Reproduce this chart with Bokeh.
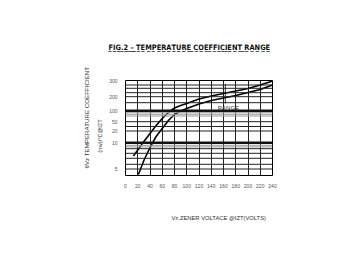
from bokeh.plotting import figure
from bokeh.models import Range1d, FixedTicker, Label, Span, Title
from bokeh.embed import file_html
from bokeh.resources import INLINE

# ---- data ----
x_ticks = [0, 20, 40, 60, 80, 100, 120, 140, 160, 180, 200, 220, 240]
y_tick_pos = [94.5, 78.8, 64.8, 53.8, 44.5, 32.8, 6.5]
y_tick_labels = ["300", "200", "100", "50", "20", "10", "5"]

upper_x = [13, 20, 30, 40, 50, 60, 70, 80, 90, 100, 120, 140, 160, 180, 200, 220, 240]
upper_y = [19.5, 25.5, 34, 42, 50, 57, 63, 67.5, 70, 72, 76.5, 79.5, 82, 84.5, 87, 90.5, 94.5]

lower_x = [21, 30, 40, 50, 60, 70, 80, 90, 100, 120, 140, 160, 180, 200, 220, 240]
lower_y = [1, 15, 28, 39, 47, 55, 61, 64.5, 67, 71.5, 75, 77.5, 80, 83, 86, 90.5]

range_x = [163, 163]
range_y = [72, 91.5]

thin_grid = [90.5, 87.2, 82.8, 78.8, 72.8, 53.8, 49, 44.5, 26.8, 22.2, 17.2, 11.2, 6.5]
gray_grid = [62.8, 61.2, 59.5, 30.2, 28.6]
heavy_grid = [64.8, 32.8]

title_text = "FIG.2 \u2013 TEMPERATURE COEFFICIENT RANGE"
x_title = "Vz,ZENER VOLTACE @IZT(VOLTS)"
y_title1 = "\u03b8Vz TEMPERATURE COEFFICIENT"
y_title2 = "(mv)/\u00b0C@IZT"

FONT = "Liberation Sans"

p = figure(width=360, height=270, x_range=Range1d(0, 240), y_range=Range1d(0, 95),
           output_backend="svg", toolbar_location=None,
           min_border_left=125, min_border_right=88, min_border_top=80, min_border_bottom=95,
           background_fill_color="white", border_fill_color="white")

p.outline_line_color = "black"
p.outline_line_width = 1

p.xaxis.ticker = FixedTicker(ticks=x_ticks)
p.yaxis.ticker = FixedTicker(ticks=y_tick_pos)
p.yaxis.major_label_overrides = {v: s for v, s in zip(y_tick_pos, y_tick_labels)}
for ax in (p.xaxis, p.yaxis):
    ax.axis_line_color = None
    ax.major_tick_line_color = None
    ax.minor_tick_line_color = None
    ax.major_label_text_font = FONT
    ax.major_label_text_font_size = "5px"
    ax.major_label_text_color = "#555555"
    ax.major_label_standoff = 2

p.xgrid.ticker = FixedTicker(ticks=x_ticks)
p.xgrid.grid_line_color = "#222222"
p.xgrid.grid_line_width = 1
p.xgrid.grid_line_alpha = 1
p.ygrid.visible = False

for g in gray_grid:
    p.add_layout(Span(location=g, dimension="width", line_color="#9a9a9a", line_width=1))
for g in thin_grid:
    p.add_layout(Span(location=g, dimension="width", line_color="#222222", line_width=1))
for g in heavy_grid:
    p.add_layout(Span(location=g, dimension="width", line_color="#111111", line_width=2.5))

p.line(upper_x, upper_y, line_color="black", line_width=1.6)
p.line(lower_x, lower_y, line_color="black", line_width=1.6)
p.line(range_x, range_y, line_color="#333333", line_width=1)

p.add_layout(Label(x=168, y=68, text="RANGE", text_font=FONT, text_font_size="6px",
                   text_color="#333333", text_align="center", text_baseline="middle"))

# title (underlined with combining low line)
underlined = "".join(c + "\u0332" for c in title_text)
p.add_layout(Title(text=underlined, text_font="DejaVu Sans Condensed", text_font_style="bold",
                   text_font_size="7.4px", text_color="#111111", align="left",
                   offset=-17, standoff=58), "above")

# axis titles
p.add_layout(Title(text=x_title, text_font=FONT, text_font_size="5.8px", text_color="#333333",
                   text_font_style="normal", align="left", offset=46, standoff=44), "below")
p.add_layout(Title(text=y_title2, text_font=FONT, text_font_size="5.6px", text_color="#333333",
                   text_font_style="normal", align="left", offset=23, standoff=8), "left")
p.add_layout(Title(text=y_title1, text_font=FONT, text_font_size="6.2px", text_color="#333333",
                   text_font_style="normal", align="left", offset=7, standoff=2), "left")

open("out.html", "w").write(file_html(p, INLINE))
